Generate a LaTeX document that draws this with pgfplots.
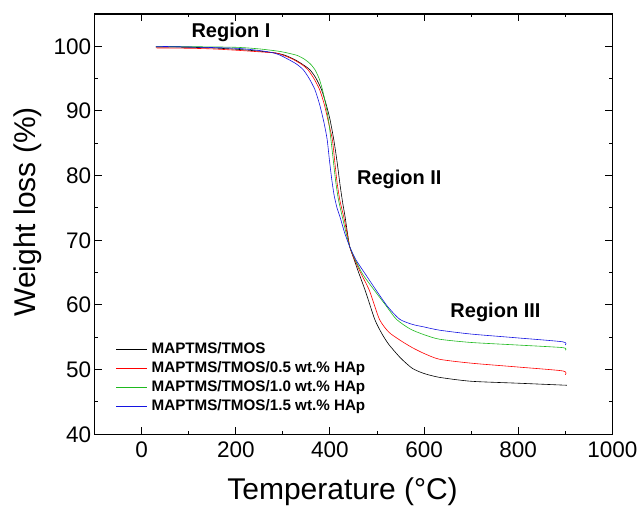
\documentclass[border=0pt]{standalone}
\usepackage{fontspec}
\setmainfont{Liberation Sans}
\usepackage{pgfplots}
\pgfplotsset{compat=1.18}
\usepackage{pgfplotstable}
\definecolor{cblack}{RGB}{0,0,0}
\definecolor{cred}{RGB}{255,0,0}
\definecolor{cgreen}{RGB}{30,185,30}
\definecolor{cblue}{RGB}{20,20,225}

\pgfplotstableread{
T W
30 99.9
100 99.85
150 99.75
200 99.55
250 99.25
286 98.95
305 98.6
325 97.95
340 97.3
357 96.4
370 95.1
382 93.3
392 91.0
400 88.7
408 85.6
415 82.2
421 78.8
427 75.8
432 73.7
437 71.2
442 69.0
450 67.3
460 65.2
476 62.0
495 57.8
510 55.6
525 53.9
550 51.8
575 50.2
600 49.4
633 48.8
700 48.2
800 47.9
898 47.6
900 47.6
}\blackdata

\pgfplotstableread{
T W
30 99.75
100 99.7
150 99.6
200 99.4
250 99.15
286 98.95
305 98.5
321 98.0
340 97.2
353 96.4
366 95.0
378 93.3
388 91.0
396 88.5
405 85.6
410 82.3
415 79.0
421 76.2
429 73.7
436 71.2
442 69.0
450 67.4
465 65.0
484 62.2
505 57.8
525 55.8
550 54.5
575 53.4
600 52.5
633 51.6
700 51.0
800 50.4
895 49.8
900 49.2
}\reddata

\pgfplotstableread{
T W
30 100.0
100 99.95
200 99.85
250 99.6
290 99.25
308 99.0
330 98.6
346 98.0
358 97.3
368 96.4
377 95.0
384 93.3
391 91.0
397 88.5
402 85.6
407 82.4
412 79.2
418 76.3
426 73.7
434 71.2
442 69.0
455 66.8
470 64.7
493 62.4
518 60.0
541 57.8
570 56.3
600 55.4
633 54.7
700 54.2
800 53.8
895 53.4
900 53.0
}\greendata

\pgfplotstableread{
T W
30 100.0
100 99.9
200 99.7
250 99.35
279 99.0
295 98.6
311 98.0
328 97.3
343 96.4
356 95.0
368 93.3
378 91.0
387 88.3
394 85.6
399 82.3
404 79.3
409 76.9
415 75.0
421 73.7
431 71.2
442 69.0
455 67.0
475 64.8
497 62.4
522 59.8
548 57.8
575 57.0
600 56.6
633 56.1
700 55.5
800 54.9
895 54.3
900 53.8
}\bluedata

\begin{document}
\begin{tikzpicture}
\begin{axis}[
  scale only axis,
  width=517.6pt, height=420.3pt,
  xmin=-100, xmax=1000, ymin=40, ymax=105,
  xtick={0,200,400,600,800,1000},
  ytick={40,50,60,70,80,90,100},
  minor x tick num=1, minor y tick num=1,
  tick align=inside,
  xtick pos=both, ytick pos=both,
  major tick length=7pt, minor tick length=3.5pt,
  axis line style={line width=1.1pt},
  every tick/.style={line width=1pt, black},
  /pgf/number format/assume math mode=true,
  /pgf/number format/1000 sep={},
  ticklabel style={font=\fontsize{22.5}{22.5}\selectfont},
  xticklabel style={yshift=-4pt},
  xlabel={Temperature (°C)},
  ylabel={Weight loss (\%)},
  label style={font=\fontsize{30}{30}\selectfont},
  xlabel style={at={(axis description cs:0.4788,-0.1563)}, anchor=base},
  ylabel style={at={(axis description cs:-0.1153,0.529)}, anchor=base, rotate=0},
  legend style={draw=none, fill=none, at={(axis description cs:0.035,0.225)}, anchor=north west,
    font=\fontsize{15.2}{15.2}\selectfont\bfseries,
    nodes={inner sep=1pt, text height=10.5pt, text depth=3pt},
    row sep=3.5pt, column sep=3pt},
  legend cell align=left,
  legend image code/.code={\draw[#1, line width=0.6pt] (0pt,0pt) -- (31pt,0pt);},
  clip=false
]
\addplot[cblack, line width=0.6pt, smooth, tension=0.4] table[x=T,y=W] {\blackdata};
\addlegendentry{MAPTMS/TMOS}
\addplot[cred, line width=0.6pt, smooth, tension=0.4] table[x=T,y=W] {\reddata};
\addlegendentry{MAPTMS/TMOS/0.5 wt.\% HAp}
\addplot[cgreen, line width=0.6pt, smooth, tension=0.4] table[x=T,y=W] {\greendata};
\addlegendentry{MAPTMS/TMOS/1.0 wt.\% HAp}
\addplot[cblue, line width=0.6pt, smooth, tension=0.4] table[x=T,y=W] {\bluedata};
\addlegendentry{MAPTMS/TMOS/1.5 wt.\% HAp}
\node[anchor=base, font=\fontsize{20}{20}\selectfont\bfseries] at (axis cs:189.6,101.3) {Region I};
\node[anchor=base, font=\fontsize{20}{20}\selectfont\bfseries] at (axis cs:547.4,78.6) {Region II};
\node[anchor=base, font=\fontsize{20}{20}\selectfont\bfseries] at (axis cs:751.7,58.1) {Region III};
\end{axis}
\pgfresetboundingbox
\path ([shift={(-94.7pt,-71.7pt)}]current axis.south west) rectangle ([shift={(29.7pt,14pt)}]current axis.north east);
\end{tikzpicture}
\end{document}
